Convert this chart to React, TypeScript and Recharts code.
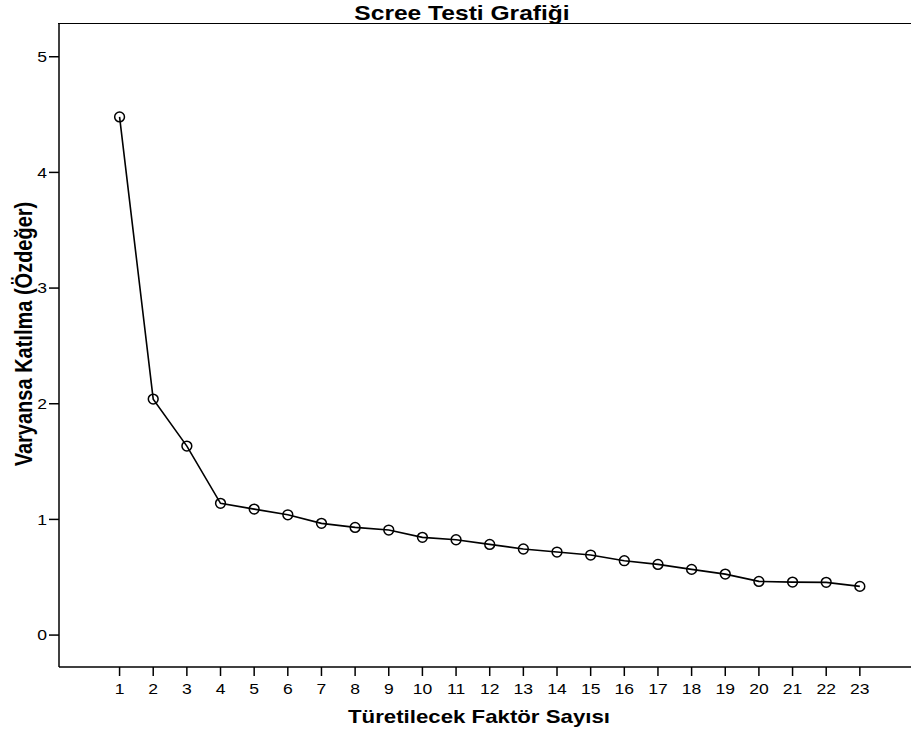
import { LineChart, Line, XAxis, YAxis } from "recharts";

// faktör numaraları ve özdeğerler
const factors = [
  1, 2, 3, 4, 5, 6, 7, 8, 9, 10, 11, 12, 13, 14, 15, 16, 17, 18, 19, 20, 21,
  22, 23,
];
const eigenvalues = [
  4.48, 2.04, 1.634, 1.139, 1.089, 1.04, 0.966, 0.931, 0.908, 0.845, 0.824,
  0.784, 0.744, 0.718, 0.692, 0.643, 0.611, 0.568, 0.527, 0.464, 0.458, 0.456,
  0.421,
];
const yTicks = [0, 1, 2, 3, 4, 5];

const data = factors.map((f, i) => ({ factor: f, value: eigenvalues[i] }));

const xDomain = [-0.8, 24.52];
const yDomain = [-0.276, 5.283];

const font = "'Liberation Sans', Arial, sans-serif";
const stretch = 1.17; // referans yazılar yatayda biraz geniş

const Dot = (props: any) => {
  const { cx, cy } = props;
  if (cx == null || cy == null) return null;
  return (
    <circle cx={cx} cy={cy} r={4.9} fill="none" stroke="#000" strokeWidth={1.5} />
  );
};

const XTick = (props: any) => {
  const { x, y, payload } = props;
  return (
    <g transform={`translate(${x},${y})`}>
      <text
        transform={`scale(${stretch},1)`}
        textAnchor="middle"
        dy="0.71em"
        fill="#000"
        fontSize={15}
        fontFamily={font}
      >
        {payload.value}
      </text>
    </g>
  );
};

const YTick = (props: any) => {
  const { x, y, payload } = props;
  return (
    <g transform={`translate(${x},${y})`}>
      <text
        transform={`scale(${stretch},1)`}
        textAnchor="end"
        dy="0.355em"
        fill="#000"
        fontSize={15}
        fontFamily={font}
      >
        {payload.value}
      </text>
    </g>
  );
};

const labelStyle = {
  position: "absolute" as const,
  fontWeight: "bold" as const,
  whiteSpace: "nowrap" as const,
  color: "#000",
  zIndex: 1,
};

const PLOT_TOP = 24;
const PLOT_LEFT = 59;

export default function App() {
  return (
    <div
      style={{
        position: "relative",
        width: 911,
        height: 736,
        fontFamily: font,
        lineHeight: 0,
      }}
    >
      <style>{"body{margin:0}"}</style>
      <LineChart
        width={911}
        height={736}
        data={data}
        margin={{ top: PLOT_TOP, right: 0, bottom: 0, left: 0 }}
        style={{ display: "block" }}
      >
        <XAxis
          dataKey="factor"
          type="number"
          domain={xDomain}
          ticks={factors}
          interval={0}
          allowDataOverflow
          height={69}
          tickSize={9}
          tickMargin={7}
          tick={<XTick />}
          axisLine={{ stroke: "#000", strokeWidth: 1.5 }}
          tickLine={{ stroke: "#000", strokeWidth: 1.5 }}
        />
        <YAxis
          type="number"
          domain={yDomain}
          ticks={yTicks}
          allowDataOverflow
          width={PLOT_LEFT}
          tickSize={10}
          tickMargin={2}
          tick={<YTick />}
          axisLine={{ stroke: "#000", strokeWidth: 1.5 }}
          tickLine={{ stroke: "#000", strokeWidth: 1.5 }}
        />
        <Line
          type="linear"
          dataKey="value"
          stroke="#000"
          strokeWidth={1.6}
          dot={<Dot />}
          activeDot={false}
          isAnimationActive={false}
        />
      </LineChart>
      {/* çerçevenin üst kenarı */}
      <div
        style={{
          position: "absolute",
          left: PLOT_LEFT - 0.75,
          right: 0,
          top: PLOT_TOP - 0.75,
          height: 0,
          borderTop: "1.5px solid #000",
        }}
      />
      <div
        style={{
          ...labelStyle,
          left: 461.5,
          top: 12,
          fontSize: 21,
          lineHeight: "21px",
          transform: `translate(-50%, -50%) scaleX(${stretch})`,
        }}
      >
        Scree Testi Grafiği
      </div>
      <div
        style={{
          ...labelStyle,
          left: 24,
          top: 334,
          fontSize: 20,
          lineHeight: "20px",
          transform: `translate(-50%, -50%) rotate(-90deg) scaleY(${stretch})`,
        }}
      >
        Varyansa Katılma (Özdeğer)
      </div>
      <div
        style={{
          ...labelStyle,
          left: 479,
          top: 716,
          fontSize: 19,
          lineHeight: "19px",
          transform: `translate(-50%, -50%) scaleX(${stretch})`,
        }}
      >
        Türetilecek Faktör Sayısı
      </div>
    </div>
  );
}
